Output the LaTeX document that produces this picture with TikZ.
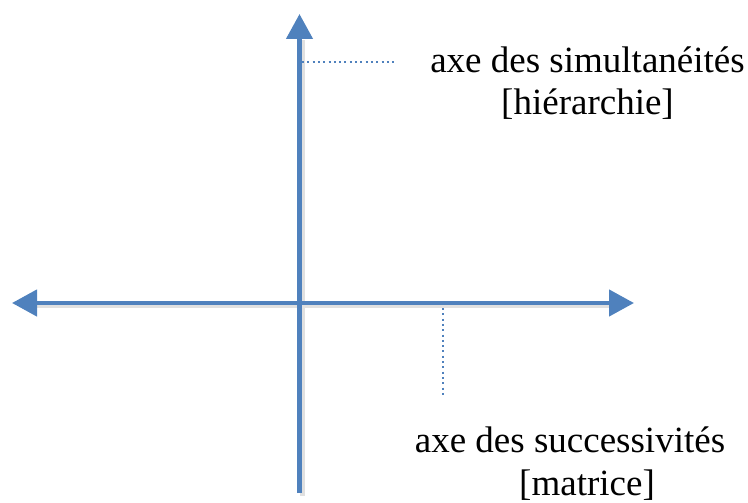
\documentclass[tikz,border=0pt]{standalone}
\usepackage{fontspec}
\setmainfont{Liberation Serif}
\usetikzlibrary{arrows.meta}
\definecolor{axisblue}{RGB}{79,129,189}
\tikzset{>={Triangle[length=25pt,width=26pt]},axis/.style={axisblue,line width=4.5pt,<->},axisup/.style={axisblue,line width=4.5pt,->},lead/.style={axisblue,line width=1.6pt,dash pattern=on 2pt off 3.3pt},shade/.style={black!12,line width=4.5pt},lbl/.style={align=center,inner sep=0pt,font=\fontsize{37}{43}\selectfont}}
\begin{document}
\begin{tikzpicture}[x=1pt,y=-1pt]
\useasboundingbox (0,0) rectangle (748,503);
\coordinate (xl) at (12,303);\coordinate (xr) at (634,303);
\coordinate (yb) at (299.5,493);\coordinate (yt) at (299.5,14);
% ombres
\draw[shade] (302.5,40)--(302.5,496);
\draw[shade] (37,306)--(610,306);
% axes
\draw[axis] (xl)--(xr);
\draw[axisup] (yb)--(yt);
\node[lbl,anchor=base] (sim) at (587.5,115) {axe des simultanéités\\{}[hiérarchie]};
\node[lbl,anchor=base] (suc) at (570,495) {axe des successivités\\\hspace*{34pt}[matrice]};
\coordinate (s1) at (302,62);\coordinate (s2) at (395,62);
\coordinate (t1) at (443,308);\coordinate (t2) at (443,397);
\draw[lead] (s1)--(s2);
\draw[lead] (t1)--(t2);
\end{tikzpicture}
\end{document}
